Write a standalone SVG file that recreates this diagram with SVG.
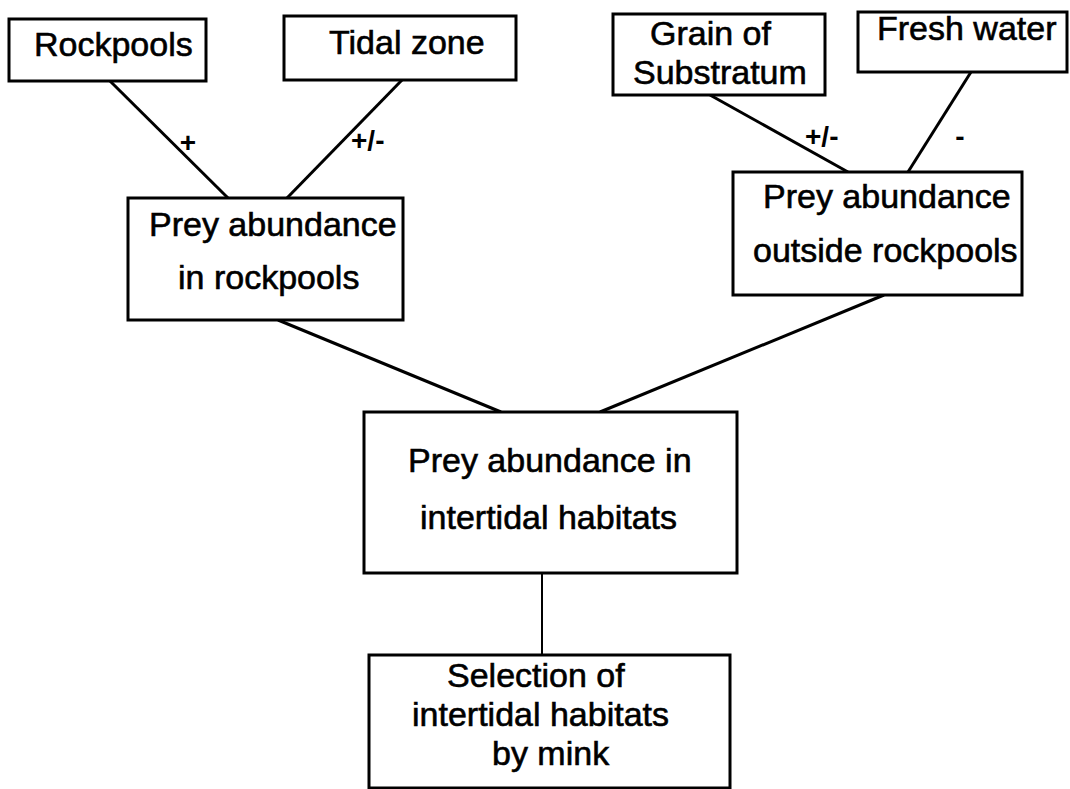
<svg xmlns="http://www.w3.org/2000/svg" width="1070" height="789" viewBox="0 0 1070 789">
<style>
.box{fill:#fff;stroke:#000;stroke-width:3}
.t{font-family:"Liberation Sans",Arial,sans-serif;font-size:34px;fill:#000;stroke:#000;stroke-width:0.6}
.lbl{font-family:"Liberation Sans",Arial,sans-serif;font-size:28px;font-weight:bold;fill:#000}
.c{stroke:#000;stroke-width:3;fill:none}
</style>
<rect width="1070" height="789" fill="#fff"/>
<g id="connectors">
<line class="c" x1="110" y1="81" x2="228" y2="198"/>
<line class="c" x1="402" y1="80" x2="287" y2="198"/>
<line class="c" x1="710" y1="95" x2="848" y2="172"/>
<line class="c" x1="971" y1="72" x2="908" y2="172"/>
<line class="c" x1="278" y1="320" x2="501" y2="412"/>
<line class="c" x1="884" y1="295" x2="600" y2="412"/>
<line class="c" style="stroke-width:2" x1="542" y1="573" x2="542" y2="655"/>
<text class="lbl" x="188" y="152" text-anchor="middle">+</text>
<text class="lbl" x="351" y="150">+/-</text>
<text class="lbl" x="805" y="146">+/-</text>
<text class="lbl" x="960" y="146" text-anchor="middle">-</text>
</g>
<g id="rockpools">
<rect class="box" x="9" y="19" width="197" height="62"/>
<text class="t" x="34" y="56">Rockpools</text>
</g>
<g id="tidal-zone">
<rect class="box" x="284" y="16" width="232" height="64"/>
<text class="t" x="329" y="54">Tidal zone</text>
</g>
<g id="grain">
<rect class="box" x="613" y="14" width="212" height="81"/>
<text class="t" x="650" y="45">Grain of</text>
<text class="t" x="633" y="84">Substratum</text>
</g>
<g id="fresh-water">
<rect class="box" x="858" y="12" width="209" height="60"/>
<text class="t" x="877" y="40">Fresh water</text>
</g>
<g id="prey-rockpools">
<rect class="box" x="128" y="198" width="275" height="122"/>
<text class="t" x="149" y="236">Prey abundance</text>
<text class="t" x="178" y="289">in rockpools</text>
</g>
<g id="prey-outside">
<rect class="box" x="733" y="172" width="289" height="123"/>
<text class="t" x="763" y="208">Prey abundance</text>
<text class="t" x="753" y="262">outside rockpools</text>
</g>
<g id="prey-intertidal">
<rect class="box" x="364" y="412" width="373" height="161"/>
<text class="t" x="408" y="472">Prey abundance in</text>
<text class="t" x="420" y="529">intertidal habitats</text>
</g>
<g id="selection">
<rect class="box" x="369" y="655" width="361" height="133"/>
<text class="t" x="447" y="687">Selection of</text>
<text class="t" x="412" y="726">intertidal habitats</text>
<text class="t" x="492" y="765">by mink</text>
</g>
</svg>
